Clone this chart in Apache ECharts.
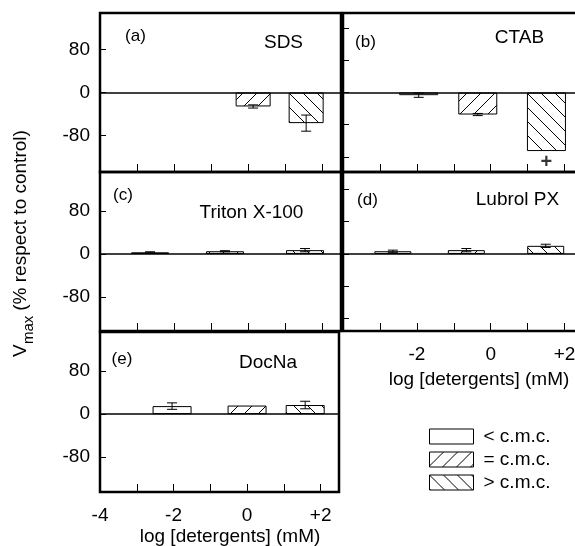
<!DOCTYPE html>
<html>
<head>
<meta charset="utf-8">
<script src="https://cdn.jsdelivr.net/npm/echarts@6/dist/echarts.min.js"></script>
<style>
  html, body { margin: 0; padding: 0; background: #fff; }
  #main { width: 575px; height: 546px; }
</style>
</head>
<body>
<div id="main"></div>
<script>
// bar kinds (legend)
const kinds = ['< c.m.c.', '= c.m.c.', '> c.m.c.'];

// log [detergent] position, Vmax, error, kind index for each panel
const sdsLog = [0.13, 1.56];
const sdsVmax = [-26, -57];
const sdsErr = [3, 15];
const sdsKind = [1, 2];

const ctabLog = [-1.95, -0.35, 1.51];
const ctabVmax = [-5, -41, -109];
const ctabErr = [4, 2, 0];
const ctabKind = [0, 1, 2];
const ctabSig = [[1.51, -130]];

const tritonLog = [-2.65, -0.63, 1.53];
const tritonVmax = [3, 5, 7];
const tritonErr = [1, 1, 3];
const tritonKind = [0, 1, 2];

const lubrolLog = [-2.65, -0.66, 1.49];
const lubrolVmax = [5, 7, 15];
const lubrolErr = [2, 3, 3];
const lubrolKind = [0, 1, 2];

const docnaLog = [-2.04, 0, 1.58];
const docnaVmax = [15, 16, 17];
const docnaErr = [6, 0, 7];
const docnaKind = [0, 1, 2];

const yLabelTicks = [-80, 0, 80];
const yPlainTicks = [-120, -60, 0, 60, 120];

const FONT = '"Liberation Sans", Arial, sans-serif';

function hatch(dir) {
  const s = 14;
  const c = document.createElement('canvas');
  c.width = c.height = s;
  const g = c.getContext('2d');
  g.fillStyle = '#fff';
  g.fillRect(0, 0, s, s);
  g.strokeStyle = '#000';
  g.lineWidth = 1;
  g.beginPath();
  if (dir === '/') {
    g.moveTo(-2, s + 2); g.lineTo(s + 2, -2);
    g.moveTo(-2, 2); g.lineTo(2, -2);
    g.moveTo(s - 2, s + 2); g.lineTo(s + 2, s - 2);
  } else {
    g.moveTo(-2, -2); g.lineTo(s + 2, s + 2);
    g.moveTo(s - 2, -2); g.lineTo(s + 2, 2);
    g.moveTo(-2, s - 2); g.lineTo(2, s + 2);
  }
  g.stroke();
  return c;
}
const fills = ['#fff', { image: hatch('/'), repeat: 'repeat' }, { image: hatch('\\'), repeat: 'repeat' }];

const panels = [
  { log: sdsLog, v: sdsVmax, err: sdsErr, kind: sdsKind, grid: { left: 100, top: 13, width: 241, height: 159 }, min: -148, max: 148, labeled: true, xlab: 0, barW: 35 },
  { log: ctabLog, v: ctabVmax, err: ctabErr, kind: ctabKind, grid: { left: 343, top: 13, width: 240, height: 159 }, min: -148, max: 148, labeled: false, xlab: 0, barW: 39 },
  { log: tritonLog, v: tritonVmax, err: tritonErr, kind: tritonKind, grid: { left: 100, top: 172, width: 241, height: 159 }, min: -143, max: 152, labeled: true, xlab: 0, barW: 38 },
  { log: lubrolLog, v: lubrolVmax, err: lubrolErr, kind: lubrolKind, grid: { left: 343, top: 172, width: 240, height: 159 }, min: -143, max: 152, labeled: false, xlab: 2, barW: 37 },
  { log: docnaLog, v: docnaVmax, err: docnaErr, kind: docnaKind, grid: { left: 100, top: 332, width: 239, height: 160 }, min: -145, max: 153, labeled: true, xlab: 1, barW: 39 }
];

const grids = [], xAxes = [], yAxes = [], series = [];

panels.forEach((p, i) => {
  grids.push(Object.assign({
    show: true, borderColor: '#000', borderWidth: 2.5, backgroundColor: 'transparent',
    containLabel: false, outerBoundsMode: 'none'
  }, p.grid));
  xAxes.push({
    gridIndex: i, type: 'value', min: -4, max: 2.5, interval: 1, position: 'bottom',
    axisLine: { show: false, onZero: false }, splitLine: { show: false },
    axisTick: { inside: true, length: 8, lineStyle: { color: '#000', width: 1 } },
    axisLabel: {
      show: p.xlab > 0, margin: 14, fontSize: 19, fontFamily: FONT, color: '#000',
      formatter: v => {
        if (v % 2 !== 0) return '';
        if (v === -4 && p.xlab === 2) return '';
        return v > 0 ? '+' + v : String(v);
      }
    }
  });
  yAxes.push({
    gridIndex: i, type: 'value', min: p.min, max: p.max, position: 'left',
    axisLine: { show: false, onZero: false }, splitLine: { show: false },
    axisTick: { inside: true, length: 6, lineStyle: { color: '#000', width: 1 }, customValues: p.labeled ? yLabelTicks : yPlainTicks },
    axisLabel: { show: p.labeled, customValues: yLabelTicks, margin: 10, fontSize: 19, fontFamily: FONT, color: '#000' }
  });
  kinds.forEach((k, j) => {
    const s = {
      type: 'bar', name: k, xAxisIndex: i, yAxisIndex: i,
      barWidth: p.barW, barGap: '-100%',
      data: p.log.map((x, n) => p.kind[n] === j ? [x, p.v[n]] : null).filter(d => d),
      itemStyle: { color: fills[j], borderColor: '#000', borderWidth: 1 },
      silent: true
    };
    if (j === 1) {
      s.markLine = {
        silent: true, symbol: 'none', label: { show: false },
        lineStyle: { color: '#000', width: 1.5, type: 'solid' },
        data: [{ yAxis: 0 }]
      };
    }
    series.push(s);
  });
  series.push({
    type: 'custom', xAxisIndex: i, yAxisIndex: i, silent: true, z: 5,
    data: p.log.map((x, n) => [x, p.v[n], p.err[n]]),
    renderItem: (params, api) => {
      const x = api.value(0), v = api.value(1), e = api.value(2);
      if (!e) return null;
      const a = api.coord([x, v + e]), b = api.coord([x, v - e]);
      const st = { stroke: '#000', lineWidth: 1 };
      return {
        type: 'group', children: [
          { type: 'line', shape: { x1: a[0], y1: a[1], x2: b[0], y2: b[1] }, style: st },
          { type: 'line', shape: { x1: a[0] - 5, y1: a[1], x2: a[0] + 5, y2: a[1] }, style: st },
          { type: 'line', shape: { x1: b[0] - 5, y1: b[1], x2: b[0] + 5, y2: b[1] }, style: st }
        ]
      };
    }
  });
});

// significance mark in CTAB panel
series.push({
  type: 'scatter', xAxisIndex: 1, yAxisIndex: 1, silent: true,
  symbolSize: 1, itemStyle: { color: 'transparent' },
  data: ctabSig,
  label: { show: true, position: 'inside', formatter: '+', fontSize: 20, fontWeight: 'bold', fontFamily: FONT, color: '#000' }
});

function txt(t, x, y, size, align) {
  return {
    type: 'text', x: x, y: y, silent: true,
    style: { text: t, fill: '#000', font: size + 'px ' + FONT, textAlign: align || 'center', textVerticalAlign: 'middle' }
  };
}

const graphics = [
  txt('(a)', 135.5, 36, 17), txt('SDS', 283.5, 43, 19),
  txt('(b)', 365.5, 42, 17), txt('CTAB', 519.5, 38, 19),
  txt('(c)', 123, 195, 17), txt('Triton X-100', 251.5, 213, 19),
  txt('(d)', 367.5, 200, 17), txt('Lubrol PX', 517.5, 200, 19),
  txt('(e)', 122, 359, 17), txt('DocNa', 268, 363, 19),
  txt('log [detergents] (mM)', 230, 537, 19),
  txt('log [detergents] (mM)', 479, 380, 19),
  Object.assign(txt('V', 0, 0, 19, 'left'), { x: 20.5, y: 357, rotation: Math.PI / 2 }),
  Object.assign(txt('max', 0, 0, 15, 'left'), { x: 28.5, y: 344, rotation: Math.PI / 2 }),
  Object.assign(txt(' (% respect to control)', 0, 0, 19, 'left'), { x: 20.5, y: 316, rotation: Math.PI / 2 })
];

const chart = echarts.init(document.getElementById('main'));
chart.setOption({
  animation: false,
  backgroundColor: '#fff',
  textStyle: { fontFamily: FONT },
  legend: {
    data: kinds, orient: 'vertical', left: 429, top: 427, padding: 0,
    itemWidth: 44, itemHeight: 15, itemGap: 4, icon: 'rect',
    itemStyle: { borderColor: '#000', borderWidth: 1 },
    textStyle: { fontSize: 19, fontFamily: FONT, color: '#000', padding: [0, 0, 0, 5] },
    selectedMode: false
  },
  grid: grids,
  xAxis: xAxes,
  yAxis: yAxes,
  series: series,
  graphic: graphics
});
</script>
</body>
</html>
